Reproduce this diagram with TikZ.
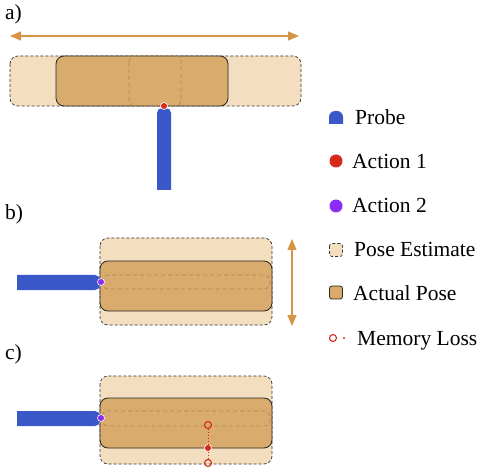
\documentclass[tikz,border=0pt]{standalone}
\usepackage{fontspec}
\setmainfont{Liberation Serif}
\newfontfamily\keyfont{Liberation Serif}
\usetikzlibrary{arrows.meta}
\definecolor{probeblue}{HTML}{3A58C8}
\definecolor{actred}{HTML}{D62A1B}
\definecolor{actpurple}{HTML}{8A2CF5}
\definecolor{estfill}{HTML}{F3DEC0}
\definecolor{posefill}{HTML}{D9AB6C}
\definecolor{ghostbrown}{HTML}{B4874F}
\definecolor{spanbrown}{HTML}{D69544}
\tikzset{
    estimate/.style={fill=estfill, draw=black!80, dash pattern=on 3pt off 2pt, line width=0.7pt, rounded corners=8pt},
    actual/.style={fill=posefill, draw=black!85, line width=0.8pt, rounded corners=8pt},
    ghost/.style={draw=ghostbrown, dash pattern=on 4pt off 3pt, line width=0.7pt, rounded corners=6pt},
    probe/.style={fill=probeblue},
    actone/.style={circle, fill=actred, draw=white, line width=0.6pt, inner sep=0pt, minimum size=7pt},
    acttwo/.style={circle, fill=actpurple, draw=white, line width=0.6pt, inner sep=0pt, minimum size=7pt},
    lost/.style={circle, draw=actred, line width=1.1pt, inner sep=0pt, minimum size=7pt},
    span/.style={{Triangle[length=11pt,width=9pt]}-{Triangle[length=11pt,width=9pt]}, draw=spanbrown, line width=1.4pt},
    legend/.style={anchor=west, inner sep=0pt, text height=14pt, text depth=4pt, font=\keyfont\fontsize{21.5}{25}\selectfont},
    panel/.style={anchor=west, inner sep=0pt, text height=14pt, text depth=4pt, font=\keyfont\fontsize{21.5}{25}\selectfont}
}
\begin{document}
\begin{tikzpicture}[x=1pt, y=-1pt]
        \useasboundingbox (0,0) rectangle (479,470);

        % a)
        \node [panel] (laba) at (5,15) {a)};
        \coordinate (spanal) at (10,36);
        \coordinate (spanar) at (299,36);
        \draw [span] (spanal) -- (spanar);
        \draw [estimate] (10,56) rectangle (301,106);
        \draw [actual] (56,56) rectangle (228,106);
        \draw [ghost] (129,56) rectangle (181,106);
        \fill [probe] (157,190) [rounded corners=5pt] -- (157,108) -- (171,108) [sharp corners] -- (171,190) -- cycle;
        \node [actone] (hita) at (164,106) {};

        % b)
        \node [panel] (labb) at (5,215) {b)};
        \draw [estimate] (100,238) rectangle (272,325);
        \draw [actual] (100,261) rectangle (272,311);
        \draw [ghost] (102,275) rectangle (270,289);
        \fill [probe] (17,290) -- (17,275) [rounded corners=5pt] -- (100,275) -- (100,290) [sharp corners] -- cycle;
        \node [acttwo] (hitb) at (101,282) {};
        \coordinate (spanbt) at (292,239);
        \coordinate (spanbb) at (292,326);
        \draw [span] (spanbt) -- (spanbb);

        % c)
        \node [panel] (labc) at (5,354) {c)};
        \draw [estimate] (100,376) rectangle (272,464);
        \draw [actual] (100,398) rectangle (272,448);
        \draw [ghost] (102,411) rectangle (270,426);
        \fill [probe] (17,426) -- (17,411) [rounded corners=5pt] -- (100,411) -- (100,426) [sharp corners] -- cycle;
        \node [acttwo] (hitc) at (101,418) {};
        \node [lost] (losttop) at (208,425) {};
        \node [actone] (losthit) at (208,448) {};
        \node [lost] (lostbot) at (208,463) {};
        \draw [actred, line width=1pt, dotted] (losttop) -- (losthit) -- (lostbot);

        % legend
        \fill [probe] (329,124) [rounded corners=6pt] -- (329,111) -- (343,111) [sharp corners] -- (343,124) -- cycle;
        \node [legend] (keyprobe) at (355,120) {Probe};
        \fill [actred] (336,161) circle (6.5pt);
        \node [legend] (keyone) at (352,163.5) {Action 1};
        \fill [actpurple] (336,206) circle (6.5pt);
        \node [legend] (keytwo) at (352,208) {Action 2};
        \draw [estimate, rounded corners=2.5pt] (329.5,243.5) rectangle (342.5,256.5);
        \node [legend] (keyest) at (354,252) {Pose Estimate};
        \draw [actual, rounded corners=2.5pt] (329.5,286) rectangle (342.5,299);
        \node [legend] (keypose) at (353,296) {Actual Pose};
        \node [lost] (keylost) at (333,338) {};
        \fill [actred] (344,338) circle (1.2pt);
        \node [legend] (keyloss) at (357,340) {Memory Loss};
\end{tikzpicture}
\end{document}
